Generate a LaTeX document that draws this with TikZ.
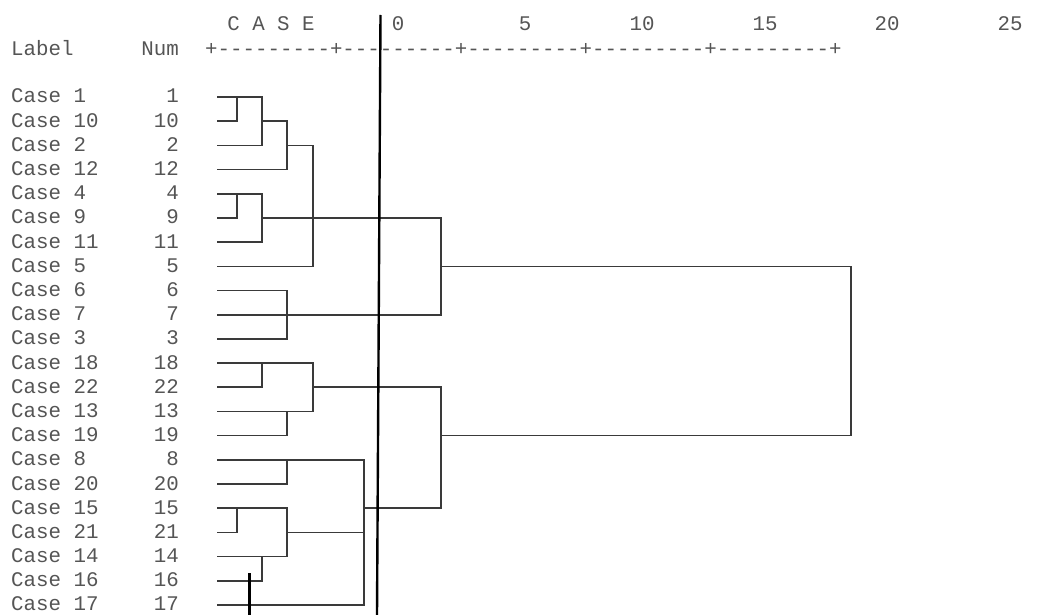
\documentclass[tikz,border=0pt]{standalone}
\usepackage{fontspec}
\usepackage{tikz}
\usetikzlibrary{calc}
\newfontfamily\spssfont{Liberation Mono}
\definecolor{inkgray}{HTML}{3A3A3A}
\definecolor{textgray}{HTML}{555555}

\begin{document}
\begin{tikzpicture}[x=1pt,y=-1pt,
    txt/.style={inner sep=0pt, text=textgray, font=\spssfont\fontsize{20.8}{24}\selectfont},
    tree/.style={draw=inkgray, line width=1.6pt},
    pen/.style={draw=black, line width=2.4pt}]
    \useasboundingbox (0,0) rectangle (1045,615);

    % Header
    \node[txt, anchor=base west] (hlabel) at (11,56) {Label};
    \node[txt, anchor=base east] (hnum) at (179,56) {Num};
    \node[txt, anchor=base west] (axis) at (205,56) {+---------+---------+---------+---------+---------+};
    \node[txt, anchor=base] (hcase) at (271,31) {C A S E};
    \foreach \v/\x in {0/398,5/525,10/642,15/765,20/887,25/1010}
        \node[txt, anchor=base] (t\v) at (\x,31) {\v};

    % Cases, in dendrogram order
    \foreach \c [count=\i from 0] in {1,10,2,12,4,9,11,5,6,7,3,18,22,13,19,8,20,15,21,14,16,17} {
        \pgfmathsetmacro\y{97+24.19*\i}
        \node[txt, anchor=base west] (lab\c) at (11,\y+6) {Case \c};
        \node[txt, anchor=base east] (num\c) at (179,\y+6) {\c};
        \coordinate (c\c) at (217,\y);
    }

    % Merge levels
    \coordinate (m1) at (237,0);
    \coordinate (m2) at (262,0);
    \coordinate (m3) at (287,0);
    \coordinate (m4) at (313,0);
    \coordinate (m5) at (364,0);
    \coordinate (m6) at (441,0);
    \coordinate (m7) at (851,0);

    % First group
    \draw[tree] (c1) -- (c1 -| m2) -- (c2 -| m2) -- (c2);
    \draw[tree] (c1 -| m1) -- (c10 -| m1) -- (c10);
    \draw[tree] (c10 -| m2) -- (c10 -| m3) -- (c12 -| m3) -- (c12);
    \draw[tree] (c2 -| m3) -- (c2 -| m4) -- (c5 -| m4) -- (c5);
    \draw[tree] (c4) -- (c4 -| m2) -- (c11 -| m2) -- (c11);
    \draw[tree] (c4 -| m1) -- (c9 -| m1) -- (c9);
    \draw[tree] (c9 -| m2) -- (c9 -| m6) -- (c7 -| m6) -- (c7);
    \draw[tree] (c6) -- (c6 -| m3) -- (c3 -| m3) -- (c3);

    % Top join
    \draw[tree] (c5 -| m6) -- (c5 -| m7) -- (c19 -| m7) -- (c19 -| m6);

    % Second group
    \draw[tree] (c18) -- (c18 -| m4) -- (c13 -| m4) -- (c13);
    \draw[tree] (c18 -| m2) -- (c22 -| m2) -- (c22);
    \draw[tree] (c22 -| m4) -- (c22 -| m6) -- (c15 -| m6) -- (c15 -| m5);
    \draw[tree] (c13 -| m3) -- (c19 -| m3) -- (c19);

    % Third group
    \draw[tree] (c8) -- (c8 -| m5) -- (c17 -| m5) -- (c17);
    \draw[tree] (c8 -| m3) -- (c20 -| m3) -- (c20);
    \draw[tree] (c15) -- (c15 -| m3) -- (c14 -| m3) -- (c14);
    \draw[tree] (c15 -| m1) -- (c21 -| m1) -- (c21);
    \draw[tree] (c21 -| m3) -- (c21 -| m5);
    \draw[tree] (c14 -| m2) -- (c16 -| m2) -- (c16);

    % Hand-drawn cut lines
    \coordinate (pa) at (380.5,15);
    \coordinate (pb) at (377,615);
    \coordinate (pc) at (249.5,573);
    \coordinate (pd) at (249.5,615);
    \draw[pen] (pa) -- (pb);
    \draw[pen] (pc) -- (pd);

\end{tikzpicture}
\end{document}
